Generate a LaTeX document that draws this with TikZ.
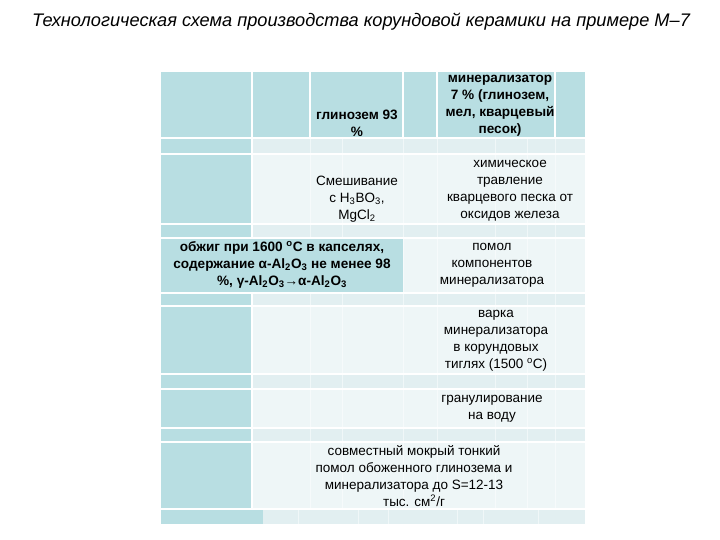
\documentclass[tikz,border=0pt]{standalone}
\usepackage{fontspec}
\setmainfont{Liberation Sans}
\definecolor{tealc}{HTML}{B8DEE2}
\definecolor{lightc}{HTML}{EEF6F7}
\definecolor{thinc}{HTML}{E2EFF1}
\begin{document}
\begin{tikzpicture}[x=1pt,y=-1pt,
  txt/.style={align=center, inner sep=0pt, font=\fontsize{13.5}{17}\selectfont},
  btxt/.style={align=center, inner sep=0pt, font=\fontsize{13.6}{17}\selectfont\bfseries},
  sep/.style={white, line width=1.6pt},
  faint/.style={white, line width=1pt, opacity=0.5}]
\fill[white] (0,0) rectangle (720,540);
\useasboundingbox (0,0) rectangle (720,540);

% header row
\fill[tealc] (161,72) rectangle (585,137);
\foreach \x in {252,310,403,437,555} \draw[sep] (\x,72) -- (\x,137);

% body light cells
\foreach \a/\b in {155/223,239/292,307/373,390/427,443/508}
  \fill[lightc] (253,\a) rectangle (585,\b);
\foreach \a/\b in {139/153,225/237,294/305,375/388,429/441}
  \fill[thinc] (253,\a) rectangle (585,\b);
\fill[thinc] (263,510) rectangle (585,524);

% faint inner column lines
\foreach \x in {310,342,403,437,495,527,555} \draw[faint] (\x,139) -- (\x,508);
\foreach \x in {298,358,388,457,483,538} \draw[faint] (\x,510) -- (\x,524);

% left teal column
\foreach \a/\b in {139/153,155/223,225/237,294/305,307/373,375/388,390/427,429/441,443/508}
  \fill[tealc] (161,\a) rectangle (251,\b);
\fill[tealc] (161,239) rectangle (403,292);
\fill[tealc] (161,510) rectangle (263,524);

% texts
\node[font=\fontsize{18.2}{20}\selectfont\itshape, inner sep=0pt] (title) at (361,22)
  {Технологическая схема производства корундовой керамики на примере М–7};
\node[btxt] (glin) at (357,123.5) {глинозем 93\\\%};
\node[btxt] (miner) at (500,106) {минерализатор\\7 \% (глинозем,\\мел, кварцевый\\песок)};
\node[txt] (smesh) at (357,199) {Смешивание\\с H\textsubscript{3}BO\textsubscript{3},\\MgCl\textsubscript{2}};
\node[txt] (chem) at (510,190.5) {химическое\\травление\\кварцевого песка от\\оксидов железа};
\node[btxt] (obzhig) at (282,265) {обжиг при 1600 \textsuperscript{o}С в капселях,\\содержание α-Al\textsubscript{2}O\textsubscript{3} не менее 98\\\%, γ-Al\textsubscript{2}O\textsubscript{3}→α-Al\textsubscript{2}O\textsubscript{3}};
\node[txt] (pomol) at (492,265) {помол\\компонентов\\минерализатора};
\node[txt] (varka) at (496,341) {варка\\минерализатора\\в корундовых\\тиглях (1500 \textsuperscript{o}С)};
\node[txt] (gran) at (492,409) {гранулирование\\на воду};
\node[txt] (sovm) at (414,476) {совместный мокрый тонкий\\помол обоженного глинозема и\\минерализатора до S=12-13\\тыс. см\textsuperscript{2}/г};
\end{tikzpicture}
\end{document}
